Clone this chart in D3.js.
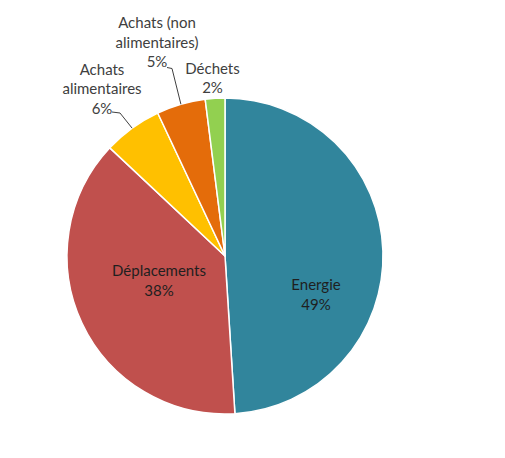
<!DOCTYPE html>
<html>
<head>
<meta charset="utf-8">
<script src="https://cdn.jsdelivr.net/npm/d3@7"></script>
<style>
  html, body { margin: 0; padding: 0; background: #fff; }
  svg { display: block; }
  text { font-family: Lato, "Open Sans", sans-serif; font-size: 15px; }
</style>
</head>
<body>
<svg id="chart" width="505" height="458"></svg>
<script>
// ---- data ----
const categories = ["Energie", "Déplacements", "Achats alimentaires", "Achats (non alimentaires)", "Déchets"];
const values = [49, 38, 6, 5, 2];
const labelLines = [["Energie"], ["Déplacements"], ["Achats", "alimentaires"], ["Achats (non", "alimentaires)"], ["Déchets"]];
const colors = ["#31859C", "#C0504D", "#FFC000", "#E46C0A", "#92D050"];

// ---- layout (not data) ----
const W = 505, H = 458;
const cx = 225, cy = 256, R = 158;
const lineH = 19.5;
// label layout: inside labels get offset from arc centroid; outside labels absolute text anchor + leader
const labelLayout = {
  "Energie": { inside: true, dx: 91, dy: 34 },
  "Déplacements": { inside: true, dx: -66, dy: 20 },
  "Achats alimentaires": { inside: false, x: 102, y: 74.5, leader: [[112, 112], [120, 113]] },
  "Achats (non alimentaires)": { inside: false, x: 157, y: 28, leader: [[167, 67.5], [172, 68.5]] },
  "Déchets": { inside: false, x: 212.5, y: 73.5, leader: null }
};

const svg = d3.select("#chart");
const g = svg.append("g").attr("transform", `translate(${cx},${cy})`);

const data = categories.map((c, i) => ({ cat: c, value: values[i], lines: labelLines[i], color: colors[i] }));
const pie = d3.pie().sort(null).value(d => d.value);
const arcs = pie(data);
const arc = d3.arc().innerRadius(0).outerRadius(R);

g.selectAll("path.slice")
  .data(arcs)
  .join("path")
  .attr("class", "slice")
  .attr("d", arc)
  .attr("fill", d => d.data.color)
  .attr("stroke", "#fff")
  .attr("stroke-width", 1.5)
  .attr("stroke-linejoin", "round");

const fmt = v => v + "%";

arcs.forEach(a => {
  const L = labelLayout[a.data.cat];
  const lines = a.data.lines.concat([fmt(a.data.value)]);
  if (L.inside) {
    const [mx, my] = d3.arc().innerRadius(0).outerRadius(0).centroid(a);
    const t = g.append("text")
      .attr("text-anchor", "middle")
      .attr("fill", "#1f1f1f")
      .attr("x", mx + L.dx)
      .attr("y", my + L.dy);
    lines.forEach((s, i) => {
      t.append("tspan").attr("x", mx + L.dx).attr("dy", i === 0 ? 0 : lineH).text(s);
    });
  } else {
    const t = svg.append("text")
      .attr("text-anchor", "middle")
      .attr("fill", "#404040")
      .attr("x", L.x)
      .attr("y", L.y);
    lines.forEach((s, i) => {
      t.append("tspan").attr("x", L.x).attr("dy", i === 0 ? 0 : lineH).text(s);
    });
    if (L.leader) {
      const mid = (a.startAngle + a.endAngle) / 2;
      const px = cx + R * Math.sin(mid), py = cy - R * Math.cos(mid);
      const pts = L.leader.concat([[px, py]]);
      svg.append("path")
        .attr("d", d3.line()(pts))
        .attr("fill", "none")
        .attr("stroke", "#404040")
        .attr("stroke-width", 1);
    }
  }
});
</script>
</body>
</html>
